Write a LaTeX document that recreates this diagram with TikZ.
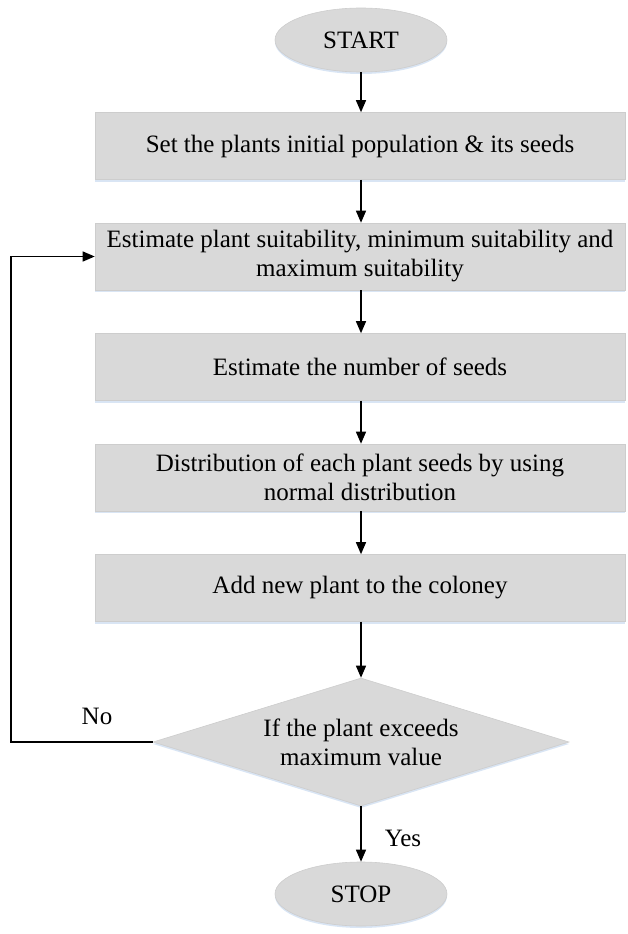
\documentclass[tikz,border=0pt]{standalone}
\usepackage{fontspec}
\setmainfont{Liberation Serif}
\usetikzlibrary{shapes.geometric,arrows.meta,shadows}
\definecolor{boxgray}{HTML}{D9D9D9}
\definecolor{boxedge}{HTML}{CDCDCD}
\definecolor{glow}{HTML}{BFD3EC}
\begin{document}
\begin{tikzpicture}[x=1pt,y=1pt,
  txt/.style={font=\fontsize{25}{29}\selectfont},
  soft/.style={drop shadow={shadow xshift=0pt,shadow yshift=-2pt,fill=glow,opacity=0.6}},
  proc/.style={rectangle, fill=boxgray, draw=boxedge, line width=0.6pt,
    minimum width=530pt, minimum height=67pt, align=center, inner sep=0pt, soft, txt},
  term/.style={ellipse, fill=boxgray, draw=boxedge, line width=0.6pt,
    minimum width=172pt, minimum height=64pt, inner sep=0pt, soft, txt},
  decide/.style={diamond, fill=boxgray, draw=boxedge, line width=0.6pt,
    shape aspect=3.25, minimum width=416pt, minimum height=128pt,
    inner sep=0pt, align=center, soft, txt},
  arr/.style={-{Triangle[length=12pt,width=10pt]}, line width=1.3pt},
  lbl/.style={txt}]
\useasboundingbox (0,0) rectangle (627,-934);

% terminals, process steps and the decision
\node[term] (start) at (361,-40) {START};
\node[proc] (b1) at (360,-146) {Set the plants initial population \& its seeds};
\node[proc] (b2) at (360,-256.5) {Estimate plant suitability, minimum suitability and\\maximum suitability};
\node[proc] (b3) at (360,-367) {Estimate the number of seeds};
\node[proc] (b4) at (360,-477.5) {Distribution of each plant seeds by using\\normal distribution};
\node[proc] (b5) at (360,-588) {Add new plant to the coloney};
\node[decide] (dec) at (361,-742) {If the plant exceeds\\maximum value};
\node[term] (stop) at (361,-894) {STOP};

% main flow
\draw[arr] (start) -- (start |- b1.north);
\draw[arr] (start |- b1.south) -- (start |- b2.north);
\draw[arr] (start |- b2.south) -- (start |- b3.north);
\draw[arr] (start |- b3.south) -- (start |- b4.north);
\draw[arr] (start |- b4.south) -- (start |- b5.north);
\draw[arr] (start |- b5.south) -- (dec);
\draw[arr] (dec) -- (stop);

% loop back when the limit is not exceeded
\coordinate (loopx) at (11,0);
\draw[arr] (dec.west) -- (dec.west -| loopx) |- (b2.west);

\node[lbl] (no) at (97,-716) {No};
\node[lbl] (yes) at (403,-838) {Yes};
\end{tikzpicture}
\end{document}
